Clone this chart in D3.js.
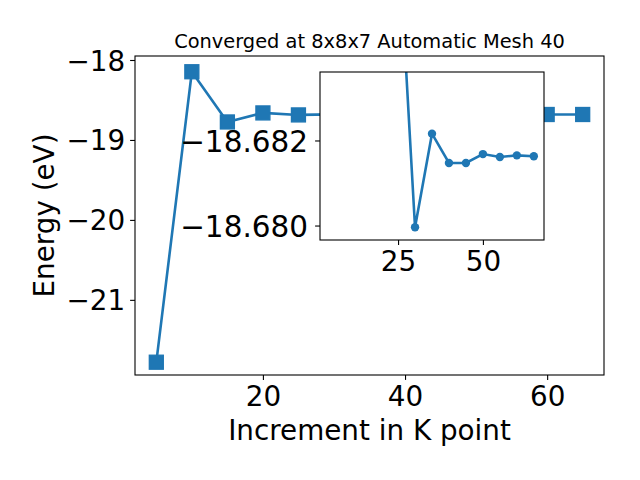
<!DOCTYPE html>
<meta charset="utf-8">
<style>
  body { margin: 0; background: #fff; }
  svg text { font-family: "DejaVu Sans", sans-serif; fill: #000; }
  .axis path, .axis line { stroke: #000; stroke-width: 1.1px; }
</style>
<body>
<svg id="chart" width="640" height="480"></svg>
<script src="https://cdn.jsdelivr.net/npm/d3@7"></script>
<script>
// data
var kPoints = [5, 10, 15, 20, 25, 30, 35, 40, 45, 50, 55, 60, 65];
var energies = [-21.78, -18.147, -18.775, -18.662, -18.687, -18.67996, -18.68216,
                -18.68147, -18.68147, -18.68168, -18.68161, -18.68165, -18.68163];
// the inset only shows the points from k = 25 on
var insetStart = 25;
var mainXTicks = [20, 40, 60];
var mainYTicks = [-18, -19, -20, -21];
var insetXTicks = [25, 50];
var insetYTicks = [-18.682, -18.680];

var titleText = "Converged at 8x8x7 Automatic Mesh 40";
var xLabel = "Increment in K point";
var yLabel = "Energy (eV)";

var blue = "#1f77b4";
var tickFont = "27.8px";
var minus = function(s) { return s.replace("-", "\u2212"); };

// main axes box
var box = {left: 135, right: 604, top: 56, bottom: 375};
// inset axes box
var ibox = {left: 320, right: 544, top: 72, bottom: 240};

var svg = d3.select("#chart");
var data = kPoints.map(function(k, i) { return {k: k, e: energies[i]}; });
var insetData = data.filter(function(d) { return d.k >= insetStart; });

// ---- main plot ----
var x = d3.scaleLinear().domain([2, 68]).range([box.left, box.right]);
var y = d3.scaleLinear().domain([-21.94, -17.95]).range([box.bottom, box.top]);

var line = d3.line().x(function(d) { return x(d.k); }).y(function(d) { return y(d.e); });

svg.append("path")
  .datum(data)
  .attr("d", line)
  .attr("fill", "none")
  .attr("stroke", blue)
  .attr("stroke-width", 2.6);

var sq = 14;
svg.selectAll("rect.mk")
  .data(data)
  .enter().append("rect")
  .attr("class", "mk")
  .attr("x", function(d) { return x(d.k) - sq / 2; })
  .attr("y", function(d) { return y(d.e) - sq / 2; })
  .attr("width", sq)
  .attr("height", sq)
  .attr("fill", blue)
  .attr("stroke", blue)
  .attr("stroke-width", 1.3);

svg.append("rect")
  .attr("x", box.left).attr("y", box.top)
  .attr("width", box.right - box.left).attr("height", box.bottom - box.top)
  .attr("fill", "none").attr("stroke", "#000").attr("stroke-width", 1.1);

var gx = svg.append("g")
  .attr("class", "axis")
  .attr("transform", "translate(0," + box.bottom + ")")
  .call(d3.axisBottom(x).tickValues(mainXTicks).tickSize(4.9).tickPadding(4.9));
gx.select(".domain").remove();
gx.selectAll("text").style("font-size", tickFont).attr("dy", "0.76em");

var gy = svg.append("g")
  .attr("class", "axis")
  .attr("transform", "translate(" + box.left + ",0)")
  .call(d3.axisLeft(y).tickValues(mainYTicks).tickSize(4.9).tickPadding(4.9)
    .tickFormat(function(d) { return minus(d3.format("d")(d)); }));
gy.select(".domain").remove();
gy.selectAll("text").style("font-size", tickFont).attr("dy", "0.36em");

svg.append("text")
  .attr("x", (box.left + box.right) / 2)
  .attr("y", 440)
  .attr("text-anchor", "middle")
  .style("font-size", "27.8px")
  .text(xLabel);

svg.append("text")
  .attr("transform", "translate(54," + ((box.top + box.bottom) / 2) + ") rotate(-90)")
  .attr("text-anchor", "middle")
  .style("font-size", "27.8px")
  .text(yLabel);

svg.append("text")
  .attr("x", (box.left + box.right) / 2)
  .attr("y", 48)
  .attr("text-anchor", "middle")
  .style("font-size", "19.4px")
  .text(titleText);

// ---- inset ----
var ix = d3.scaleLinear().domain([2, 68]).range([ibox.left, ibox.right]);
var iy = d3.scaleLinear().domain([-18.68361, -18.67966]).range([ibox.top, ibox.bottom]);

svg.append("rect")
  .attr("x", ibox.left).attr("y", ibox.top)
  .attr("width", ibox.right - ibox.left).attr("height", ibox.bottom - ibox.top)
  .attr("fill", "#fff");

svg.append("clipPath").attr("id", "iclip")
  .append("rect")
  .attr("x", ibox.left).attr("y", ibox.top)
  .attr("width", ibox.right - ibox.left).attr("height", ibox.bottom - ibox.top);

var ig = svg.append("g").attr("clip-path", "url(#iclip)");
var iline = d3.line().x(function(d) { return ix(d.k); }).y(function(d) { return iy(d.e); });

ig.append("path")
  .datum(insetData)
  .attr("d", iline)
  .attr("fill", "none")
  .attr("stroke", blue)
  .attr("stroke-width", 2.6);

ig.selectAll("circle")
  .data(insetData)
  .enter().append("circle")
  .attr("cx", function(d) { return ix(d.k); })
  .attr("cy", function(d) { return iy(d.e); })
  .attr("r", 4.2)
  .attr("fill", blue);

svg.append("rect")
  .attr("x", ibox.left).attr("y", ibox.top)
  .attr("width", ibox.right - ibox.left).attr("height", ibox.bottom - ibox.top)
  .attr("fill", "none").attr("stroke", "#000").attr("stroke-width", 1.1);

var igx = svg.append("g")
  .attr("class", "axis")
  .attr("transform", "translate(0," + ibox.bottom + ")")
  .call(d3.axisBottom(ix).tickValues(insetXTicks).tickSize(4.9).tickPadding(4.9));
igx.select(".domain").remove();
igx.selectAll("text").style("font-size", tickFont).attr("dy", "0.76em");

var igy = svg.append("g")
  .attr("class", "axis")
  .attr("transform", "translate(" + ibox.left + ",0)")
  .call(d3.axisLeft(iy).tickValues(insetYTicks).tickSize(4.9).tickPadding(7)
    .tickFormat(function(d) { return minus(d3.format(".3f")(d)); }));
igy.select(".domain").remove();
igy.selectAll("text").style("font-size", "29.5px").attr("dy", "0.36em");
</script>
</body>
